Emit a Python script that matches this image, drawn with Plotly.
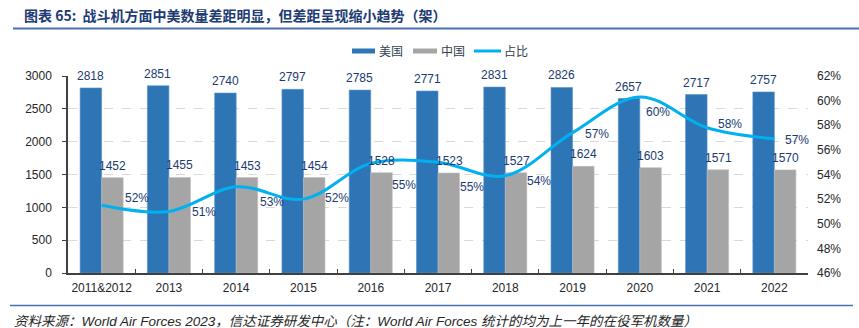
import plotly.graph_objects as go

# Fighter aircraft in service, US vs China, and China's count as a share of the US count
years = ["2011&2012", "2013", "2014", "2015", "2016", "2017", "2018", "2019", "2020", "2021", "2022"]
us_counts = [2818, 2851, 2740, 2797, 2785, 2771, 2831, 2826, 2657, 2717, 2757]
cn_counts = [1452, 1455, 1453, 1454, 1528, 1523, 1527, 1624, 1603, 1571, 1570]
share_pct = [51.5, 51.0, 53.0, 52.0, 54.9, 55.0, 53.9, 57.4, 60.3, 57.8, 56.9]

# pixel offsets of each share label from its point (right, up)
share_label_dx = [21, 21, 22, 20, 19, 20, 20, 10, 4, 9, 9]
share_label_dy = [7, -1, -15, 1, -22, -25, -5, -1, -15, 4, -1]

W, H = 859, 328
L, R, T, B = 68, 808, 76, 273

BLUE = "#2E75B6"
GRAY = "#A5A5A5"
SKY = "#00B0F0"
NAVY = "#203A72"
TEXT = "#262626"
FONT = "Liberation Sans, Arial, Noto Sans CJK SC, sans-serif"
CJK = "Noto Sans CJK SC, sans-serif"


def px(x):
    return (x - L) / (R - L)


def py(y):
    return (B - y) / (B - T)


fig = go.Figure()

fig.add_trace(go.Bar(
    name="美国", x=years, y=us_counts, marker_color=BLUE,
    marker_line=dict(color="#5A92C8", width=0.6),
))
fig.add_trace(go.Bar(
    name="中国", x=years, y=cn_counts, marker_color=GRAY,
    marker_line=dict(color="#BDBDBD", width=0.6),
))
fig.add_trace(go.Scatter(
    name="占比", x=years, y=share_pct, yaxis="y2", mode="lines",
    line=dict(color=SKY, width=3, shape="spline", smoothing=1.0),
    cliponaxis=False,
))

annotations = []
# value labels above each bar (US left, China right of the category centre)
for i, (u, c) in enumerate(zip(us_counts, cn_counts)):
    for v, shift in ((u, -11), (c, 11)):
        annotations.append(dict(
            x=i, y=v, xref="x", yref="y", text=str(v), showarrow=False,
            xanchor="center", yanchor="middle", xshift=shift, yshift=12,
            font=dict(color=NAVY, size=12, family=FONT),
        ))

for i, (v, dx, dy) in enumerate(zip(share_pct, share_label_dx, share_label_dy)):
    annotations.append(dict(
        x=i, y=v, xref="x", yref="y2", text=f"{v:.0f}%", showarrow=False,
        xanchor="left", yanchor="middle", xshift=dx, yshift=dy,
        font=dict(color=NAVY, size=12, family=FONT),
    ))

# title
annotations.append(dict(
    x=px(22), y=py(15), xref="paper", yref="paper", xanchor="left", yanchor="middle",
    text="<b>图表 65:  战斗机方面中美数量差距明显，但差距呈现缩小趋势（架）</b>",
    showarrow=False, font=dict(color=NAVY, size=14, family=CJK),
))
# source note
annotations.append(dict(
    x=px(12), y=py(321.5), xref="paper", yref="paper", xanchor="left", yanchor="middle",
    text="<i>资料来源：World Air Forces 2023，信达证券研发中心（注：World Air Forces 统计的均为上一年的在役军机数量）</i>",
    showarrow=False, font=dict(color=TEXT, size=13.5, family=FONT),
))

# legend entries
legend_items = [("rect", BLUE, 352, 375, "美国", 377),
                ("rect", GRAY, 413, 437, "中国", 439),
                ("line", SKY, 474, 501, "占比", 502)]
shapes = []
for kind, col, x0, x1, label, tx in legend_items:
    if kind == "rect":
        shapes.append(dict(type="rect", xref="paper", yref="paper",
                           x0=px(x0), x1=px(x1), y0=py(53.5), y1=py(48.5),
                           fillcolor=col, line=dict(width=0)))
    else:
        shapes.append(dict(type="line", xref="paper", yref="paper",
                           x0=px(x0), x1=px(x1), y0=py(51), y1=py(51),
                           line=dict(color=col, width=3)))
    annotations.append(dict(
        x=px(tx), y=py(51), xref="paper", yref="paper", xanchor="left", yanchor="middle",
        text=label, showarrow=False, font=dict(color="#333F50", size=12, family=CJK),
    ))

# rules under the title and above the source
shapes.append(dict(type="line", xref="paper", yref="paper",
                   x0=px(13), x1=px(859), y0=py(28.5), y1=py(28.5),
                   line=dict(color="#4A6FB5", width=2)))
shapes.append(dict(type="line", xref="paper", yref="paper",
                   x0=px(10), x1=px(853), y0=py(305.5), y1=py(305.5),
                   line=dict(color="#4A6FB5", width=1.5)))

fig.update_layout(
    width=W, height=H,
    margin=dict(l=L, r=W - R, t=T, b=H - B, pad=0),
    paper_bgcolor="white", plot_bgcolor="white",
    barmode="group", bargap=0.36, bargroupgap=0,
    showlegend=False,
    font=dict(family=FONT, size=12, color=TEXT),
    annotations=annotations, shapes=shapes,
    xaxis=dict(
        type="category", range=[-0.5, len(years) - 0.5], autorange=False,
        showline=True, linecolor="#404040", linewidth=1.5,
        ticks="inside", tickson="boundaries", ticklen=4, tickcolor="#404040",
        tickfont=dict(size=12, color=TEXT), showgrid=False, tickangle=0,
        ticklabelstandoff=3,
    ),
    yaxis=dict(
        range=[0, 3000], dtick=500, showline=True, linecolor="#404040", linewidth=1.5,
        ticks="outside", ticklen=4, tickcolor="#404040",
        showgrid=True, gridcolor="#D9D9D9", griddash="dash", gridwidth=1,
        zeroline=False, tickfont=dict(size=12, color=TEXT), ticklabelstandoff=8,
    ),
    yaxis2=dict(
        overlaying="y", side="right", range=[46, 62], dtick=2, ticksuffix="%",
        showgrid=False, showline=False, zeroline=False, ticks="",
        tickfont=dict(size=12, color=TEXT), ticklabelstandoff=8,
    ),
)

fig.write_html("out.html")
